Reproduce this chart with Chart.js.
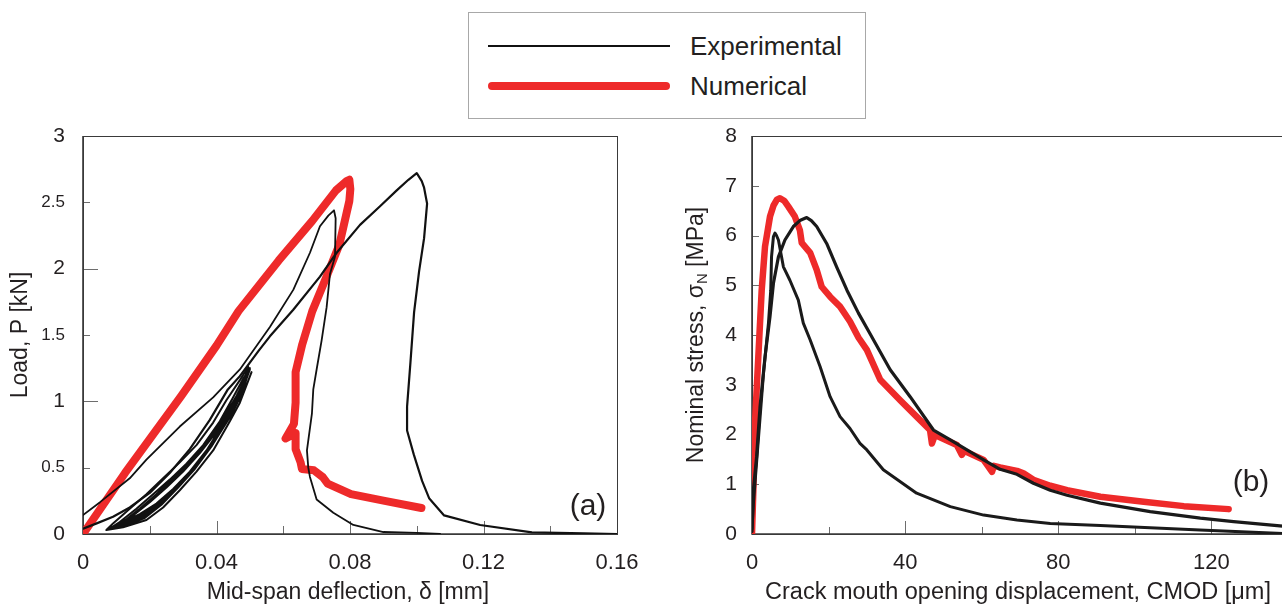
<!DOCTYPE html>
<html>
<head>
<meta charset="utf-8">
<script src="https://cdn.jsdelivr.net/npm/chart.js@4.4.1/dist/chart.umd.min.js"></script>
<style>
html, body { margin:0; padding:0; overflow:hidden; background:#fff; }
body { width:1282px; height:608px; position:relative; font-family:"Liberation Sans", Arial, sans-serif; color:#231f20; }
#legend { position:absolute; left:468px; top:12px; width:398px; height:107px; border:1px solid #a8a8a8; box-sizing:border-box; }
#legend .ln { position:absolute; left:19px; width:182px; }
#legend .tx { position:absolute; left:221px; font-size:26px; line-height:28px; }
#cA { position:absolute; left:0; top:100px; }
#cB { position:absolute; left:660px; top:100px; }
</style>
</head>
<body>
<div id="legend">
  <div class="ln" style="top:32px;height:2px;background:#111;"></div>
  <div class="tx" style="top:19px;">Experimental</div>
  <div class="ln" style="top:69px;height:8px;background:#ee2a2a;border-radius:4px;"></div>
  <div class="tx" style="top:59px;">Numerical</div>
</div>
<canvas id="cA" width="650" height="508"></canvas>
<canvas id="cB" width="640" height="508"></canvas>
<script>
// ---- (a) load vs mid-span deflection [mm, kN]
var numA = [[0,0],[0.0126,0.46],[0.0294,1.04],[0.040,1.42],[0.0466,1.68],[0.0586,2.06],[0.0687,2.36],
  [0.0758,2.59],[0.0790,2.66],[0.0798,2.67],[0.0801,2.60],[0.0798,2.51],[0.0768,2.18],[0.0728,1.93],
  [0.0687,1.68],[0.0657,1.43],[0.0637,1.22],[0.0637,0.99],[0.0632,0.83],[0.0607,0.72],[0.0637,0.76],
  [0.0637,0.64],[0.0652,0.54],[0.0656,0.49],[0.0692,0.48],[0.0718,0.43],[0.0733,0.38],[0.0803,0.30],
  [0.0904,0.25],[0.1014,0.196]];

var expA1 = [[0,0.143],[0.0051,0.24],[0.014,0.42],[0.019,0.56],[0.029,0.81],[0.039,1.03],[0.047,1.24],
  [0.056,1.56],[0.063,1.84],[0.068,2.12],[0.071,2.32],[0.0735,2.40],[0.0752,2.44],[0.0757,2.38],
  [0.0755,2.09],[0.074,1.96],[0.073,1.71],[0.0715,1.46],[0.070,1.24],[0.069,1.09],[0.0686,0.91],
  [0.0671,0.63],[0.0675,0.50],[0.068,0.43],[0.070,0.26],[0.075,0.16],[0.081,0.068],[0.090,0.015],
  [0.100,0.008],[0.107,0]];

var expA2 = [[0,0.04],[0.0041,0.08],[0.009,0.13],[0.014,0.2],[0.020,0.31],[0.026,0.46],[0.032,0.64],
  [0.038,0.86],[0.0434,1.09],[0.047,1.19],[0.0526,1.38],[0.056,1.49],[0.063,1.69],[0.071,1.94],
  [0.076,2.12],[0.083,2.33],[0.089,2.47],[0.094,2.59],[0.0975,2.67],[0.1,2.72],[0.1015,2.66],
  [0.1022,2.61],[0.1031,2.49],[0.1022,2.23],[0.1007,1.98],[0.0992,1.67],[0.0981,1.29],[0.0971,0.96],
  [0.0971,0.78],[0.0991,0.60],[0.1016,0.40],[0.1037,0.27],[0.1082,0.14],[0.119,0.068],[0.1345,0.012],
  [0.150,0.004],[0.160,0]];

// unloading / reloading cycles of the second specimen
var cyclesA = [[0.0505,1.22],[0.047,0.99],[0.044,0.85],[0.039,0.63],[0.034,0.47],[0.029,0.33],[0.024,0.2],
  [0.019,0.105],[0.012,0.05],[0.007,0.03],[0.009,0.08],[0.014,0.19],[0.019,0.30],[0.024,0.42],[0.029,0.54],
  [0.034,0.67],[0.039,0.84],[0.043,1.01],[0.047,1.16],[0.0495,1.26],
  [0.0465,1.02],[0.0435,0.87],[0.0385,0.66],[0.0335,0.49],[0.0285,0.35],[0.0235,0.22],[0.0185,0.12],
  [0.012,0.06],[0.008,0.04],[0.011,0.09],[0.016,0.19],[0.021,0.30],[0.026,0.41],[0.031,0.53],[0.036,0.67],
  [0.041,0.85],[0.045,1.03],[0.048,1.17],[0.050,1.25],
  [0.0475,1.05],[0.044,0.88],[0.039,0.68],[0.034,0.51],[0.029,0.37],[0.024,0.24],[0.019,0.14],[0.013,0.07],
  [0.009,0.05],[0.013,0.11],[0.018,0.20],[0.023,0.31],[0.028,0.43],[0.033,0.56],[0.038,0.71],[0.043,0.90],
  [0.047,1.08],[0.0495,1.22],
  [0.0465,1.00],[0.0425,0.83],[0.0375,0.63],[0.0325,0.47],[0.0275,0.34],[0.0225,0.22],[0.0175,0.13],
  [0.012,0.07],[0.010,0.06],[0.015,0.14],[0.020,0.24],[0.025,0.35],[0.030,0.47],[0.035,0.61],[0.040,0.77],
  [0.044,0.94],[0.048,1.12],[0.0500,1.24],
  [0.047,1.03],[0.043,0.85],[0.038,0.65],[0.033,0.49],[0.028,0.36],[0.023,0.24],[0.018,0.15],[0.013,0.09],
  [0.011,0.07],[0.016,0.16],[0.021,0.27],[0.026,0.39],[0.031,0.51],[0.036,0.65],[0.041,0.82],[0.045,0.99],
  [0.0485,1.15],[0.0498,1.24],
  [0.0465,1.03],[0.042,0.83],[0.037,0.63],[0.032,0.47],[0.027,0.34],[0.022,0.23],[0.017,0.15],[0.012,0.09],
  [0.017,0.19],[0.022,0.30],[0.027,0.42],[0.032,0.55],[0.037,0.70],[0.042,0.87],[0.046,1.04],[0.049,1.19],
  [0.0497,1.25]];

// ---- (b) nominal stress vs CMOD [um, MPa]
var numB = [[0,0],[0.35,0.88],[0.78,2.23],[1.65,3.56],[2.53,4.9],[3.4,5.78],[4.7,6.38],[5.6,6.6],[6.5,6.72],
  [7.3,6.75],[8.4,6.70],[9.5,6.58],[11.2,6.38],[12.5,6.11],[13.0,5.85],[15.2,5.65],[16.9,5.31],[18.2,4.97],
  [20.4,4.77],[23,4.57],[25.6,4.27],[27.8,3.95],[30,3.7],[33.5,3.1],[38.7,2.69],[43,2.36],[46.5,2.09],
  [47,1.82],[47.8,1.99],[53.5,1.79],[54.8,1.59],[55.4,1.67],[60.5,1.49],[62.7,1.25],[63.2,1.37],[64.8,1.34],
  [69.2,1.27],[70.9,1.22],[73.5,1.09],[77.9,0.97],[82.3,0.88],[91,0.75],[102.3,0.65],[112.8,0.56],[124.5,0.50]];

var expB1 = [[0,0.05],[0.35,0.88],[1.2,1.55],[2.1,2.56],[3.4,3.56],[4.7,4.37],[5.6,5.04],[6.9,5.57],
  [8.6,5.91],[10.8,6.18],[12.5,6.30],[14.3,6.36],[15.5,6.30],[16.9,6.18],[19.5,5.84],[22.1,5.37],[24.8,4.9],
  [27.8,4.44],[30.8,4.03],[36.1,3.3],[41.3,2.76],[47.4,2.09],[51.8,1.89],[60.5,1.49],[64.8,1.30],
  [69.2,1.20],[73.5,1.02],[77.9,0.88],[82.3,0.78],[91,0.62],[104,0.45],[117.1,0.32],[125.8,0.25],
  [138.6,0.16],[141,0.15]];

var expB2 = [[0,0.1],[0.35,0.6],[1.65,1.89],[3.0,3.23],[4.3,4.24],[4.9,4.9],[5.1,5.57],[5.6,5.98],[6.0,6.05],
  [6.4,6.0],[6.9,5.91],[8.2,5.37],[9.9,5.1],[12.1,4.7],[13.4,4.24],[15.2,3.9],[17.8,3.36],[20.4,2.76],
  [23,2.36],[25.6,2.12],[28.2,1.82],[30,1.69],[34.3,1.29],[43,0.82],[51.8,0.55],[60.5,0.38],[69.2,0.28],
  [77.9,0.21],[91,0.17],[117,0.08],[138.6,0.01],[141,0]];

var RED = '#ee2a2a';
var INK = '#231f20';
var FONT = "'Liberation Sans', Arial, sans-serif";

function pts(a) {
  return a.map(function (p) { return { x: p[0], y: p[1] }; });
}

function line(data, color, width) {
  return {
    data: pts(data),
    showLine: true,
    borderColor: color,
    borderWidth: width,
    pointRadius: 0,
    borderCapStyle: 'round',
    borderJoinStyle: 'round',
    tension: 0
  };
}

// frame, inward tick marks, axis titles and panel tag
var panelDeco = {
  id: 'panelDeco',
  beforeDatasetsDraw: function (chart, args, o) {
    var c = chart.ctx, a = chart.chartArea;
    var xs = chart.scales.x, ys = chart.scales.y;
    c.save();
    c.strokeStyle = '#6d6d6d';
    c.lineWidth = 1;
    var i, v, px, len;
    for (i = 0; ; i++) {
      v = xs.min + i * o.xStep;
      if (v > xs.max + 1e-9) break;
      px = Math.round(xs.getPixelForValue(v)) + 0.5;
      len = (i % o.xEvery === 0) ? o.xLong : o.xShort;
      c.beginPath(); c.moveTo(px, a.bottom); c.lineTo(px, a.bottom - len); c.stroke();
    }
    for (i = 0; ; i++) {
      v = ys.min + i * o.yStep;
      if (v > ys.max + 1e-9) break;
      px = Math.round(ys.getPixelForValue(v)) + 0.5;
      len = (i % o.yEvery === 0) ? o.yLong : o.yShort;
      c.beginPath(); c.moveTo(a.left, px); c.lineTo(a.left + len, px); c.stroke();
    }
    c.strokeStyle = '#3a3a3a';
    c.lineWidth = 1;
    c.strokeRect(a.left + 0.5, a.top + 0.5, a.right - a.left, a.bottom - a.top);
    c.lineWidth = 1.6;
    c.beginPath();
    c.moveTo(a.left, a.top); c.lineTo(a.left, a.bottom); c.lineTo(a.right, a.bottom);
    c.stroke();
    c.restore();
  },
  afterDraw: function (chart, args, o) {
    var c = chart.ctx, a = chart.chartArea;
    c.save();
    c.fillStyle = INK;
    c.textBaseline = 'middle';
    c.font = o.xTitleSize + 'px ' + FONT;
    // x title
    c.textAlign = 'center';
    c.fillText(o.xTitle, (a.left + a.right) / 2 + o.xTitleDx, a.bottom + 59);
    // y title (rotated, optional subscript)
    c.translate(a.left - o.yTitleDx, (a.top + a.bottom) / 2);
    c.rotate(-Math.PI / 2);
    c.textAlign = 'left';
    var parts = o.yTitle;
    var total = 0, k;
    for (k = 0; k < parts.length; k++) {
      c.font = (parts[k].sub ? '15px ' : '23px ') + FONT;
      total += c.measureText(parts[k].t).width;
    }
    var x0 = -total / 2;
    for (k = 0; k < parts.length; k++) {
      c.font = (parts[k].sub ? '15px ' : '23px ') + FONT;
      c.fillText(parts[k].t, x0, parts[k].sub ? 6 : 0);
      x0 += c.measureText(parts[k].t).width;
    }
    c.restore();
    c.save();
    c.fillStyle = INK;
    c.font = '30px ' + FONT;
    c.textAlign = 'center';
    c.textBaseline = 'middle';
    c.fillText(o.tag, a.right - o.tagDx, a.bottom - o.tagDy);
    c.restore();
  }
};

function axes(xMax, xStep, yMax, yStep, yW, xH, yPad, xFmt) {
  return {
    x: {
      type: 'linear', min: 0, max: xMax,
      grid: { display: false, drawTicks: false }, border: { display: false },
      afterFit: function (s) { s.height = xH; s.paddingLeft = 0; s.paddingRight = 0; },
      ticks: {
        stepSize: xStep, padding: 16, color: INK, maxRotation: 0, autoSkip: false,
        font: { family: FONT, size: 22 }, callback: xFmt
      }
    },
    y: {
      type: 'linear', min: 0, max: yMax,
      grid: { display: false, drawTicks: false }, border: { display: false },
      afterFit: function (s) { s.width = yW; s.paddingTop = 0; s.paddingBottom = 0; },
      ticks: {
        stepSize: yStep, padding: yPad, color: INK, autoSkip: false,
        callback: function (v) { return String(v); },
        font: function (ctx) {
          var v = ctx.tick ? ctx.tick.value : 0;
          return { family: FONT, size: Number.isInteger(v) ? 21 : 17 };
        }
      }
    }
  };
}

new Chart(document.getElementById('cA'), {
  type: 'scatter',
  data: {
    datasets: [
      line(cyclesA, '#111', 2),
      line(expA2, '#111', 2.2),
      line(expA1, '#111', 1.8),
      line(numA, RED, 8)
    ]
  },
  options: {
    responsive: false, animation: false,
    layout: { padding: { top: 36, right: 33, left: 0, bottom: 0 } },
    scales: axes(0.16, 0.04, 3, 0.5, 83, 74, 18, function (v) {
      return v === 0 ? '0' : v.toFixed(2);
    }),
    plugins: {
      legend: { display: false }, tooltip: { enabled: false },
      panelDeco: {
        xStep: 0.02, xEvery: 2, xLong: 13, xShort: 8,
        yStep: 0.5, yEvery: 2, yLong: 15, yShort: 7,
        xTitle: 'Mid-span deflection, \u03b4 [mm]', xTitleDx: -2, xTitleSize: 23,
        yTitle: [{ t: 'Load, P [kN]' }], yTitleDx: 62,
        tag: '(a)', tagDx: 29, tagDy: 27
      }
    }
  },
  plugins: [panelDeco]
});

new Chart(document.getElementById('cB'), {
  type: 'scatter',
  data: {
    datasets: [
      line(expB2, '#1a1a1a', 3),
      line(expB1, '#1a1a1a', 3.2),
      line(numB, RED, 6.5)
    ]
  },
  options: {
    responsive: false, animation: false,
    layout: { padding: { top: 36, right: 12, left: 0, bottom: 0 } },
    scales: axes(140, 40, 8, 1, 92, 74, 15, function (v) { return v > 130 ? '' : String(v); }),
    plugins: {
      legend: { display: false }, tooltip: { enabled: false },
      panelDeco: {
        xStep: 20, xEvery: 2, xLong: 13, xShort: 7,
        yStep: 1, yEvery: 1, yLong: 7, yShort: 7,
        xTitle: 'Crack mouth opening displacement, CMOD [\u03bcm]', xTitleDx: -2, xTitleSize: 23.5,
        yTitle: [{ t: 'Nominal stress, \u03c3' }, { t: 'N', sub: true }, { t: ' [MPa]' }], yTitleDx: 55,
        tag: '(b)', tagDx: 37, tagDy: 51
      }
    }
  },
  plugins: [panelDeco]
});
</script>
</body>
</html>
